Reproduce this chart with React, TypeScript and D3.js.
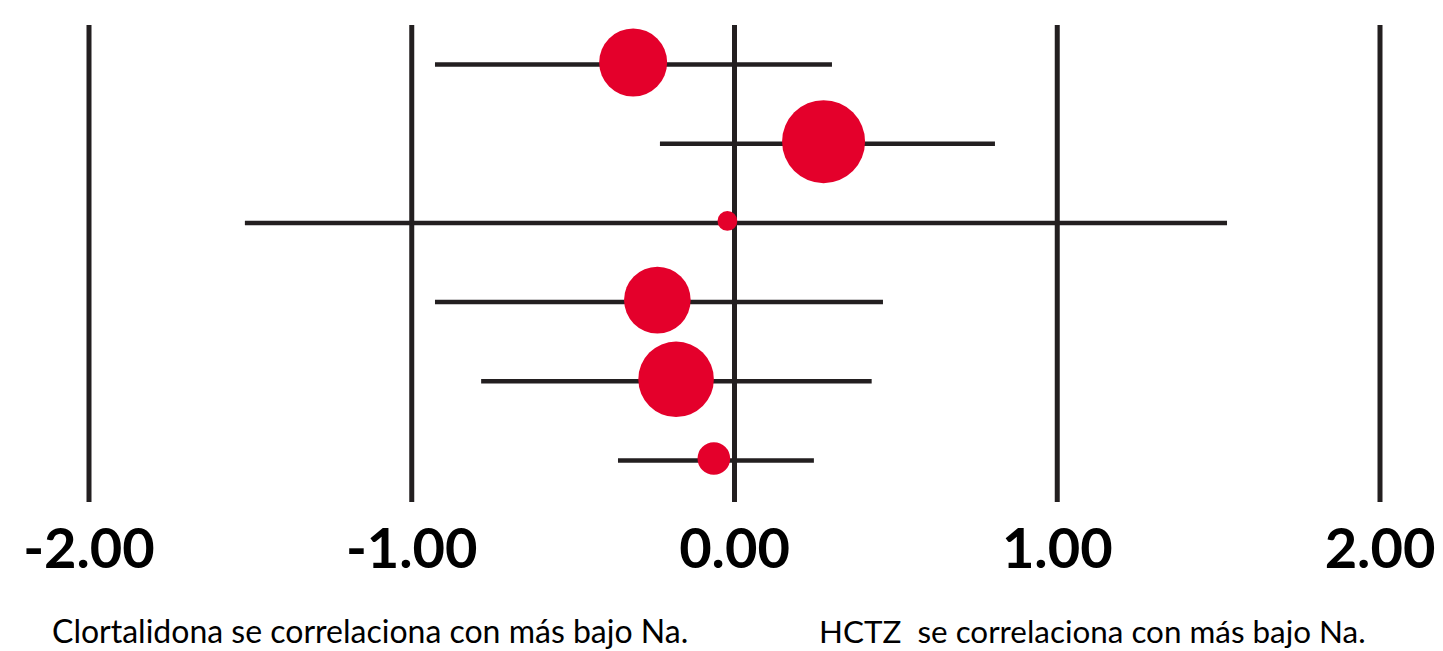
import React, { useEffect } from "react";
import * as d3 from "d3";

// ---- data ----
const ticks = [-2, -1, 0, 1, 2];
const tickLabels = ["-2.00", "-1.00", "0.00", "1.00", "2.00"];
const studies = ["1", "2", "3", "4", "5", "6"];
const estimates = [-0.314, 0.276, -0.022, -0.239, -0.181, -0.064];
const lower = [-0.928, -0.231, -1.517, -0.928, -0.785, -0.361];
const upper = [0.302, 0.807, 1.526, 0.46, 0.425, 0.246];
const weights = [20.0, 29.8, 1.7, 19.2, 24.7, 4.6];
const footLeft = "Clortalidona se correlaciona con más bajo Na.";
const footRight = "HCTZ  se correlaciona con más bajo Na.";

const W = 1443;
const H = 651;
const INK = "#231f20";
const RED = "#e4002b";

export default function App() {
  useEffect(() => {
    document.body.style.margin = "0";
  }, []);

  const x = d3.scaleLinear().domain([-2, 2]).range([89, 1380]);
  const y = d3.scalePoint<string>().domain(studies).range([64, 460]);
  const r = d3.scaleSqrt().domain([0, d3.max(weights) as number]).range([0, 41.5]);

  return (
    <svg width={W} height={H} style={{ display: "block", background: "#fff" }}>
      {ticks.map((t, i) => (
        <line
          key={"v" + i}
          x1={x(t)}
          x2={x(t)}
          y1={25}
          y2={502}
          stroke={INK}
          strokeWidth={5}
        />
      ))}
      {studies.map((s, i) => (
        <line
          key={"h" + i}
          x1={x(lower[i])}
          x2={x(upper[i])}
          y1={(y(s) as number) + 0.5}
          y2={(y(s) as number) + 0.5}
          stroke={INK}
          strokeWidth={4.5}
        />
      ))}
      {studies.map((s, i) => (
        <circle
          key={"c" + i}
          cx={x(estimates[i])}
          cy={(y(s) as number) - 1.5}
          r={r(weights[i])}
          fill={RED}
        />
      ))}
      {ticks.map((t, i) => (
        <text
          key={"t" + i}
          x={x(t)}
          y={568}
          textAnchor="middle"
          fontFamily="Lato, 'Open Sans', sans-serif"
          fontWeight={700}
          fontSize={56}
          fill="#000"
        >
          {tickLabels[i]}
        </text>
      ))}
      <text
        x={52}
        y={643}
        fontFamily="Lato, 'Open Sans', sans-serif"
        fontSize={32}
        fill="#000"
        style={{ whiteSpace: "pre" }}
      >
        {footLeft}
      </text>
      <text
        x={819}
        y={643}
        fontFamily="Lato, 'Open Sans', sans-serif"
        fontSize={31.4}
        fill="#000"
        style={{ whiteSpace: "pre" }}
      >
        {footRight}
      </text>
    </svg>
  );
}
